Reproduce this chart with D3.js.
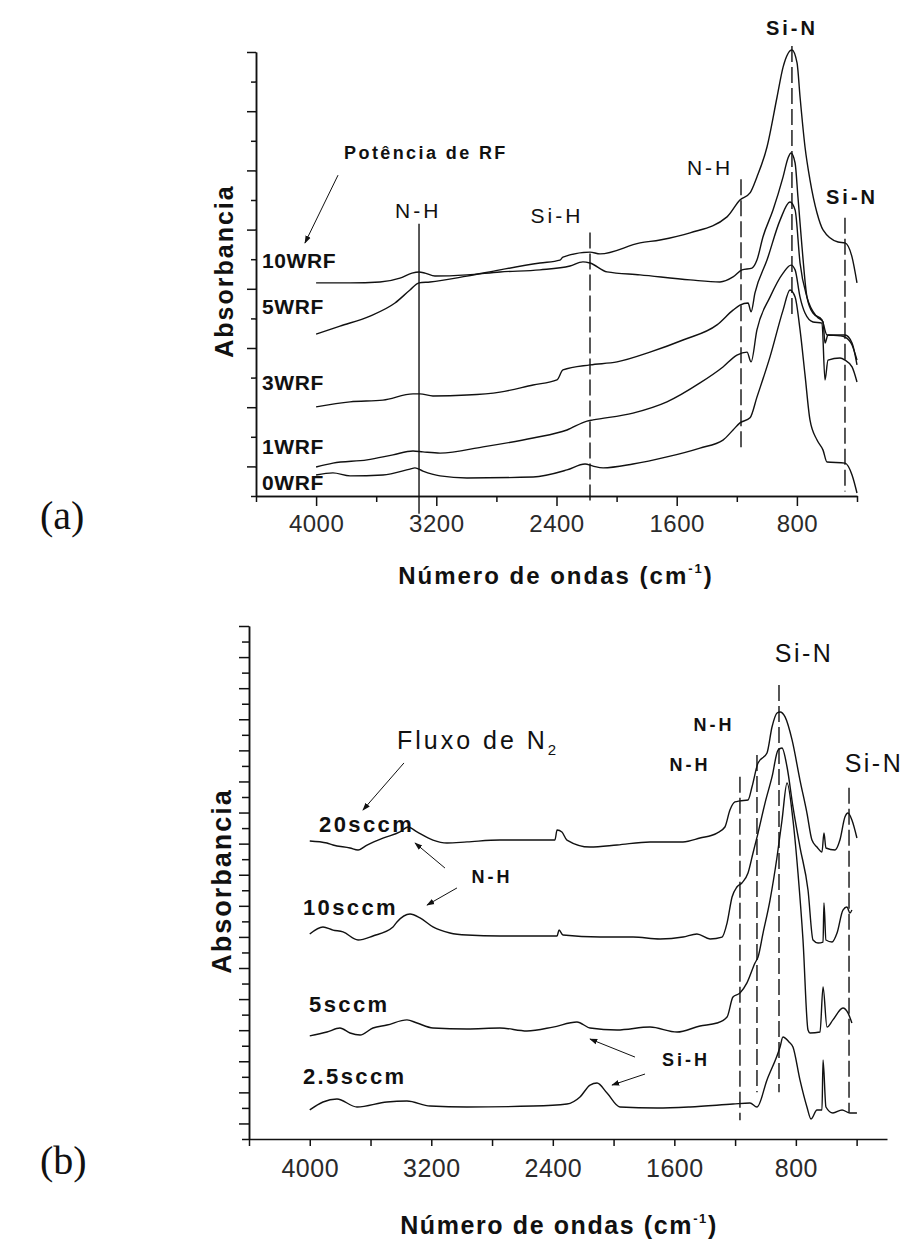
<!DOCTYPE html>
<html>
<head>
<meta charset="utf-8">
<script src="https://cdn.jsdelivr.net/npm/d3@7/dist/d3.min.js"></script>
<style>
  body { margin: 0; background: #fff; }
  svg text { font-family: "Liberation Sans", Arial, sans-serif; fill: #111; }
</style>
</head>
<body>
<script>
// ---- panel (a): RF power series, [wavenumber (cm-1), absorbance (a.u., offset)]
var rf10 = [[4000,7.20],[3774,7.20],[3575,7.23],[3442,7.36],[3362,7.53],[3315,7.57],[3275,7.53],[3209,7.43],[2996,7.47],[2776,7.57],[2510,7.64],[2310,7.77],[2224,7.91],[2177,7.87],[2064,7.57],[1844,7.47],[1511,7.30],[1312,7.23],[1225,7.40],[1165,7.64],[1099,7.70],[1066,7.97],[1026,8.75],[959,9.66],[892,10.78],[859,11.42],[839,11.59],[812,11.25],[793,10.10],[766,8.41],[733,6.72],[693,6.18],[633,5.95],[600,5.44],[513,5.41],[480,5.37],[433,5.10],[400,4.59]];
var rf5 = [[4000,5.47],[3841,5.74],[3641,6.08],[3475,6.52],[3375,6.96],[3315,7.20],[3242,7.23],[2996,7.43],[2776,7.64],[2510,7.87],[2377,7.97],[2357,8.07],[2177,8.24],[2110,8.18],[1844,8.55],[1711,8.65],[1511,8.89],[1265,9.43],[1179,10.00],[1112,10.24],[1066,10.78],[999,11.79],[932,13.48],[892,14.49],[833,15.07],[799,14.63],[779,13.48],[746,11.79],[713,10.68],[666,9.56],[626,8.99],[526,8.58],[480,8.55],[433,8.07],[400,7.20]];
var rf3 = [[4000,3.01],[3774,3.18],[3555,3.24],[3355,3.45],[3309,3.45],[3222,3.38],[2996,3.41],[2776,3.51],[2556,3.75],[2397,3.92],[2357,4.26],[2177,4.43],[1997,4.53],[1778,4.86],[1558,5.27],[1332,5.78],[1225,6.28],[1179,6.45],[1125,6.52],[1105,6.22],[1079,6.86],[999,7.97],[912,9.32],[846,9.93],[812,9.66],[779,7.87],[733,6.72],[666,6.05],[626,5.88],[613,5.17],[593,5.44],[480,5.44],[433,5.17],[400,4.43]];
var rf1 = [[4000,0.98],[3888,1.11],[3661,1.22],[3488,1.39],[3355,1.52],[3289,1.49],[3175,1.45],[2889,1.66],[2556,1.96],[2330,2.23],[2197,2.53],[2157,2.57],[1891,2.80],[1665,3.18],[1445,3.82],[1292,4.36],[1199,4.76],[1132,4.86],[1105,4.53],[1066,5.61],[979,6.72],[892,7.53],[839,7.80],[812,7.64],[779,6.72],[746,6.18],[693,5.88],[633,5.84],[613,3.92],[593,4.59],[513,4.66],[480,4.59],[433,4.36],[400,3.85]];
var rf0 = [[4000,0.71],[3888,0.78],[3774,0.68],[3555,0.71],[3375,0.91],[3342,0.95],[3289,0.84],[3175,0.68],[2996,0.61],[2556,0.64],[2330,0.88],[2210,1.08],[2157,1.01],[2090,0.95],[1891,1.08],[1665,1.32],[1445,1.62],[1292,1.89],[1225,2.23],[1179,2.47],[1112,2.64],[1066,3.34],[979,4.70],[892,6.28],[846,6.96],[812,6.72],[779,5.61],[746,4.09],[713,2.57],[666,1.89],[626,1.55],[600,1.15],[480,1.11],[433,0.71],[400,0.10]];
var rfNames = ["10WRF", "5WRF", "3WRF", "1WRF", "0WRF"];

// bands marked in (a): wavenumber, marker top / bottom (a.u.), name
var bandsA = [3315, 2177, 1172, 833, 480];
var bandTopA = [9.2, 8.9, 10.7, 15.2, 9.4];
var bandBotA = [-0.6, -0.15, 1.55, 6.05, 0.15];
var bandNamesA = ["N-H", "Si-H", "N-H", "Si-N", "Si-N"];

// ---- panel (b): N2 flow series
var n20 = [[4000,19.17],[3887,19.04],[3847,18.91],[3735,18.72],[3682,18.59],[3623,18.91],[3518,19.36],[3406,19.75],[3353,20.07],[3294,19.75],[3189,19.23],[3097,19.04],[2965,19.11],[2748,19.23],[2386,19.23],[2372,19.88],[2340,19.75],[2307,19.23],[2155,18.78],[1977,18.91],[1760,19.11],[1543,19.11],[1431,19.36],[1319,19.68],[1267,20.07],[1234,21.16],[1201,21.68],[1168,21.75],[1115,21.81],[1089,22.64],[1049,24.19],[990,24.83],[957,26.50],[924,27.40],[904,27.47],[871,27.15],[825,25.67],[773,23.09],[727,20.97],[694,19.23],[661,18.78],[628,18.46],[615,19.68],[602,18.72],[542,18.59],[510,19.23],[477,20.71],[457,20.97],[431,20.52],[398,19.36]];
var n10 = [[4000,13.19],[3913,13.64],[3847,13.44],[3781,13.32],[3682,12.80],[3584,13.06],[3452,13.64],[3426,13.96],[3340,14.47],[3274,14.22],[3189,13.64],[3077,13.25],[2965,13.12],[2748,13.06],[2372,13.06],[2359,13.44],[2333,13.12],[2089,12.99],[1872,12.99],[1694,12.87],[1543,12.99],[1451,13.19],[1365,12.87],[1286,12.99],[1253,13.89],[1220,15.57],[1188,16.21],[1155,16.47],[1115,17.11],[1082,18.40],[1049,19.68],[1003,21.61],[957,23.29],[917,25.02],[891,25.15],[858,23.93],[819,21.36],[773,18.78],[720,16.02],[687,12.80],[654,12.61],[621,12.67],[615,15.18],[602,12.80],[562,12.67],[529,13.25],[490,14.73],[464,14.92],[444,14.54],[431,14.73]];
var n5 = [[4000,6.63],[3887,6.88],[3801,7.14],[3735,6.82],[3669,6.69],[3584,7.14],[3492,7.33],[3360,7.66],[3294,7.46],[3189,7.14],[2965,7.08],[2748,7.14],[2570,6.95],[2399,7.20],[2241,7.53],[2155,7.14],[1977,7.01],[1760,7.20],[1582,6.88],[1431,7.27],[1319,7.46],[1253,7.85],[1214,9.13],[1168,9.39],[1122,10.04],[1069,11.32],[1049,11.71],[1016,13.25],[970,15.37],[924,18.14],[891,20.52],[858,22.90],[819,20.52],[786,17.11],[753,12.80],[720,7.01],[707,6.82],[641,6.88],[621,9.78],[595,7.20],[556,7.66],[490,8.43],[457,8.11],[431,7.46]];
var n25 = [[4000,1.87],[3913,2.38],[3821,2.57],[3689,2.06],[3492,2.38],[3360,2.44],[3208,2.12],[2965,2.06],[2530,2.12],[2307,2.25],[2221,2.70],[2155,3.47],[2109,3.60],[2043,2.96],[1958,2.06],[1714,1.99],[1497,2.06],[1214,2.25],[1102,2.32],[1056,2.06],[990,3.80],[904,5.92],[885,6.56],[845,6.24],[819,5.92],[773,3.80],[727,2.06],[700,1.29],[661,1.87],[628,1.87],[621,5.08],[602,2.06],[556,1.67],[496,1.87],[444,1.67],[398,1.67]];
var fluxNames = ["20sccm", "10sccm", "5sccm", "2.5sccm"];

var bandsB = [1168, 1056, 911, 450];
var bandTopB = [23.3, 24.7, 29.2, 22.6];
var bandBotB = [1.2, 3.0, 3.0, 1.7];

var xTickLabels = [4000, 3200, 2400, 1600, 800];

// ---- drawing
var svg = d3.select("body").append("svg")
            .attr("width", 907)
            .attr("height", 1240);

var xA = d3.scaleLinear().domain([4400, 400]).range([256, 857]);
var yA = d3.scaleLinear().domain([0, 15]).range([496, 52]);
var xB = d3.scaleLinear().domain([4400, 200]).range([249, 887]);
var yB = d3.scaleLinear().domain([0, 33]).range([1139, 626]);

svg.append("defs").append("marker")
   .attr("id", "ah")
   .attr("viewBox", "0 0 10 10")
   .attr("refX", 9).attr("refY", 5)
   .attr("markerWidth", 8).attr("markerHeight", 8)
   .attr("orient", "auto")
   .append("path")
   .attr("d", "M0,1.5 L10,5 L0,8.5 z")
   .attr("fill", "#111");

function styleAxis(g, fs) {
  g.selectAll("path.domain, line").attr("stroke", "#111").attr("stroke-width", 1.5);
  g.selectAll("text")
   .style("font-family", "'Liberation Sans', Arial, sans-serif")
   .style("font-size", fs + "px")
   .style("fill", "#2a2a2a")
   .style("letter-spacing", "0.5px");
}

// panel (a) axes
var gxA = svg.append("g").attr("transform", "translate(0,496)");
gxA.call(d3.axisBottom(xA).tickValues(xTickLabels).tickSize(10).tickPadding(9)
   .tickFormat(d3.format("d")).tickSizeOuter(0));
gxA.append("g").call(d3.axisBottom(xA).tickValues([4400, 3600, 2800, 2000, 1200, 400])
   .tickSize(6).tickFormat("").tickSizeOuter(0));
styleAxis(gxA, 24);

var gyA = svg.append("g").attr("transform", "translate(256,0)");
gyA.call(d3.axisLeft(yA).tickValues(d3.range(1, 16, 2)).tickSize(9).tickFormat("").tickSizeOuter(0));
gyA.append("g").call(d3.axisLeft(yA).tickValues(d3.range(0, 16, 2)).tickSize(5).tickFormat("").tickSizeOuter(0));
styleAxis(gyA, 24);

// panel (b) axes
var gxB = svg.append("g").attr("transform", "translate(0,1139)");
gxB.call(d3.axisBottom(xB).tickValues(d3.range(4400, 399, -400)).tickSize(7).tickPadding(13)
   .tickFormat(function(d) { return xTickLabels.indexOf(d) >= 0 ? d : ""; }).tickSizeOuter(0));
styleAxis(gxB, 25);

var gyB = svg.append("g").attr("transform", "translate(249,0)");
gyB.call(d3.axisLeft(yB).tickValues(d3.range(1, 34, 2)).tickSize(10).tickFormat("").tickSizeOuter(0));
gyB.append("g").call(d3.axisLeft(yB).tickValues(d3.range(0, 34, 2)).tickSize(7).tickFormat("").tickSizeOuter(0));
styleAxis(gyB, 25);

// spectra (screen x increases as wavenumber falls, so monotoneX is safe)
var lineA = d3.line().curve(d3.curveMonotoneX)
              .x(function(d) { return xA(d[0]); }).y(function(d) { return yA(d[1]); });
var lineB = d3.line().curve(d3.curveMonotoneX)
              .x(function(d) { return xB(d[0]); }).y(function(d) { return yB(d[1]); });

svg.selectAll("path.specA").data([rf10, rf5, rf3, rf1, rf0]).enter()
   .append("path").attr("class", "specA")
   .attr("d", lineA)
   .attr("fill", "none").attr("stroke", "#111").attr("stroke-width", 1.4);

svg.selectAll("path.specB").data([n20, n10, n5, n25]).enter()
   .append("path").attr("class", "specB")
   .attr("d", lineB)
   .attr("fill", "none").attr("stroke", "#111").attr("stroke-width", 1.4);

// band markers
svg.selectAll("line.bandA").data(bandsA).enter()
   .append("line").attr("class", "bandA")
   .attr("x1", function(d) { return xA(d); })
   .attr("x2", function(d) { return xA(d); })
   .attr("y1", function(d, i) { return yA(bandTopA[i]); })
   .attr("y2", function(d, i) { return yA(bandBotA[i]); })
   .attr("stroke", "#111").attr("stroke-width", 1.4)
   .attr("stroke-dasharray", function(d, i) { return i === 0 ? null : "16,5"; });

svg.selectAll("line.bandB").data(bandsB).enter()
   .append("line").attr("class", "bandB")
   .attr("x1", function(d) { return xB(d); })
   .attr("x2", function(d) { return xB(d); })
   .attr("y1", function(d, i) { return yB(bandTopB[i]); })
   .attr("y2", function(d, i) { return yB(bandBotB[i]); })
   .attr("stroke", "#111").attr("stroke-width", 1.4)
   .attr("stroke-dasharray", "16,5");

// annotations, placed in data units
function label(x, y, txt, size, bold, spacing, anchor) {
  return svg.append("text")
     .attr("x", x).attr("y", y)
     .attr("dominant-baseline", "central")
     .attr("text-anchor", anchor || "middle")
     .style("font-size", size + "px")
     .style("font-weight", bold ? "bold" : "normal")
     .style("letter-spacing", spacing + "px")
     .text(txt);
}
function arrow(x1, y1, x2, y2) {
  svg.append("line")
     .attr("x1", x1).attr("y1", y1).attr("x2", x2).attr("y2", y2)
     .attr("stroke", "#111").attr("stroke-width", 1)
     .attr("marker-end", "url(#ah)");
}

// (a)
var rfLabelY = [7.97, 6.39, 3.82, 1.66, 0.44];
rfNames.forEach(function(n, i) { label(xA(4360), yA(rfLabelY[i]), n, 21, true, 0.6, "start"); });
label(xA(3269), yA(11.59), "Potência de RF", 18, true, 2.4);
arrow(xA(3854), yA(10.84), xA(4074), yA(8.55));

var bandLabelA = [[3320, 9.66], [2397, 9.49], [1378, 11.11], [833, 15.81], [433, 10.10]];
bandNamesA.forEach(function(n, i) {
  var isSiN = n === "Si-N";
  label(xA(bandLabelA[i][0]), yA(bandLabelA[i][1]), n, isSiN ? 20 : 21, isSiN, 3);
});

// (b)
var fluxLabel = [[3939, 20.20], [4045, 14.86], [4005, 8.68], [4045, 3.99]];
fluxNames.forEach(function(n, i) { label(xB(fluxLabel[i][0]), yB(fluxLabel[i][1]), n, 22, true, 2.4, "start"); });

var flux = label(xB(3426), yB(25.67), "Fluxo de N", 25, false, 3, "start");
flux.append("tspan").attr("dy", 9).style("font-size", "15px").style("letter-spacing", "0px").text("2");
arrow(xB(3380), yB(24.19), xB(3650), yB(21.16));

label(xB(2800), yB(16.85), "N-H", 18, true, 3);
arrow(xB(3110), yB(17.43), xB(3307), yB(19.04));
arrow(xB(3031), yB(16.15), xB(3228), yB(15.05));

label(xB(1523), yB(5.08), "Si-H", 18, true, 3);
arrow(xB(1859), yB(5.27), xB(2155), yB(6.43));
arrow(xB(1793), yB(4.18), xB(2010), yB(3.47));

label(xB(1339), yB(26.63), "N-H", 18, true, 3);
label(xB(1497), yB(24.06), "N-H", 18, true, 3);
label(xB(746), yB(31.26), "Si-N", 25, false, 2.5);
label(xB(286), yB(24.19), "Si-N", 25, false, 2.5);

// axis titles and panel letters
function yTitle(x, y, size) {
  svg.append("text")
     .attr("transform", "translate(" + x + "," + y + ") rotate(-90)")
     .attr("text-anchor", "middle")
     .style("font-size", size + "px").style("font-weight", "bold")
     .style("letter-spacing", "2px")
     .text("Absorbancia");
}
yTitle(233, 271, 25);
yTitle(231, 881, 27);

function xTitle(x, y, size, spacing) {
  var t = svg.append("text")
     .attr("x", x).attr("y", y)
     .attr("text-anchor", "middle")
     .style("font-size", size + "px").style("font-weight", "bold")
     .style("letter-spacing", spacing + "px")
     .text("Número de ondas (cm");
  t.append("tspan").attr("dy", -11).style("font-size", "13px").text("-1");
  t.append("tspan").attr("dy", 11).text(")");
}
xTitle(556, 584, 24, 2);
xTitle(559, 1234, 25, 1.6);

svg.append("text").attr("x", 40).attr("y", 529)
   .style("font-family", "'Liberation Serif', 'Times New Roman', serif")
   .style("font-size", "40px").text("(a)");
svg.append("text").attr("x", 40).attr("y", 1174)
   .style("font-family", "'Liberation Serif', 'Times New Roman', serif")
   .style("font-size", "40px").text("(b)");
</script>
</body>
</html>
